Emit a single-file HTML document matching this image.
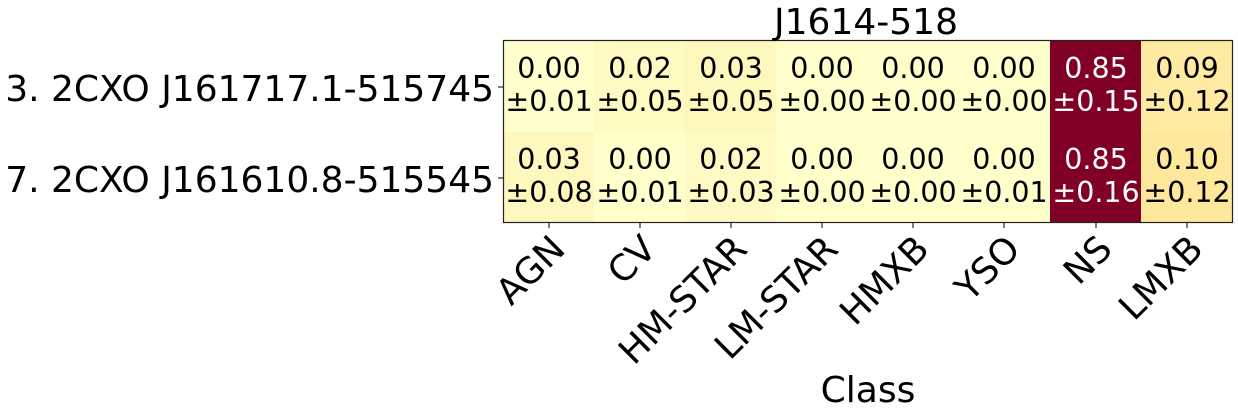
<!DOCTYPE html>
<html><head><style>
body{margin:0;width:1238px;height:414px;background:#fff;overflow:hidden}
</style></head><body>
<svg width="1238" height="414" xmlns="http://www.w3.org/2000/svg" font-family="DejaVu Sans, Liberation Sans, sans-serif">
<g>
<rect x="503" y="41" width="92" height="91" fill="#ffffcb"/>
<rect x="594" y="41" width="92" height="91" fill="#fffac2"/>
<rect x="685" y="41" width="92" height="91" fill="#fff8bd"/>
<rect x="776" y="41" width="92" height="91" fill="#ffffcc"/>
<rect x="867" y="41" width="92" height="91" fill="#ffffcc"/>
<rect x="958" y="41" width="92" height="91" fill="#ffffcc"/>
<rect x="1050" y="41" width="92" height="91" fill="#800026"/>
<rect x="1141" y="41" width="91" height="91" fill="#feeaa0"/>
<rect x="503" y="132" width="92" height="91" fill="#fff8be"/>
<rect x="594" y="132" width="92" height="91" fill="#ffffcb"/>
<rect x="685" y="132" width="92" height="91" fill="#fffac3"/>
<rect x="776" y="132" width="92" height="91" fill="#ffffcc"/>
<rect x="867" y="132" width="92" height="91" fill="#ffffcc"/>
<rect x="958" y="132" width="92" height="91" fill="#ffffcb"/>
<rect x="1050" y="132" width="92" height="91" fill="#800026"/>
<rect x="1141" y="132" width="91" height="91" fill="#fee89c"/>
<rect x="503.5" y="40.5" width="729" height="182" fill="none" stroke="#222" stroke-width="1.2"/>
</g>
<g font-size="28.5" text-anchor="middle" fill="#000">
<text x="549" y="78">0.00</text><text x="549" y="111">±0.01</text>
<text x="640" y="78">0.02</text><text x="640" y="111">±0.05</text>
<text x="731" y="78">0.03</text><text x="731" y="111">±0.05</text>
<text x="822" y="78">0.00</text><text x="822" y="111">±0.00</text>
<text x="913" y="78">0.00</text><text x="913" y="111">±0.00</text>
<text x="1004" y="78">0.00</text><text x="1004" y="111">±0.00</text>
<text x="1096" y="78" fill="#fff">0.85</text><text x="1096" y="111" fill="#fff">±0.15</text>
<text x="1187" y="78">0.09</text><text x="1187" y="111">±0.12</text>
<text x="549" y="169">0.03</text><text x="549" y="202">±0.08</text>
<text x="640" y="169">0.00</text><text x="640" y="202">±0.01</text>
<text x="731" y="169">0.02</text><text x="731" y="202">±0.03</text>
<text x="822" y="169">0.00</text><text x="822" y="202">±0.00</text>
<text x="913" y="169">0.00</text><text x="913" y="202">±0.00</text>
<text x="1004" y="169">0.00</text><text x="1004" y="202">±0.01</text>
<text x="1096" y="169" fill="#fff">0.85</text><text x="1096" y="202" fill="#fff">±0.16</text>
<text x="1187" y="169">0.10</text><text x="1187" y="202">±0.12</text>
</g>
<g stroke="#000" stroke-width="1">
<line x1="498" y1="87" x2="503" y2="87"/><line x1="498" y1="178" x2="503" y2="178"/>
<line x1="549" y1="223" x2="549" y2="228"/><line x1="640" y1="223" x2="640" y2="228"/>
<line x1="731" y1="223" x2="731" y2="228"/><line x1="822" y1="223" x2="822" y2="228"/>
<line x1="913" y1="223" x2="913" y2="228"/><line x1="1004" y1="223" x2="1004" y2="228"/>
<line x1="1096" y1="223" x2="1096" y2="228"/><line x1="1187" y1="223" x2="1187" y2="228"/>
</g>
<text x="866" y="34" font-size="36" text-anchor="middle">J1614-518</text>
<g font-size="36" text-anchor="end">
<text x="494" y="101">3. 2CXO J161717.1-515745</text>
<text x="494" y="192">7. 2CXO J161610.8-515545</text>
</g>
<g font-size="36" text-anchor="end">
<text transform="translate(567,251) rotate(-45)">AGN</text>
<text transform="translate(658,251) rotate(-45)">CV</text>
<text transform="translate(749,251) rotate(-45)">HM-STAR</text>
<text transform="translate(840,251) rotate(-45)">LM-STAR</text>
<text transform="translate(931,251) rotate(-45)">HMXB</text>
<text transform="translate(1022,251) rotate(-45)">YSO</text>
<text transform="translate(1114,251) rotate(-45)">NS</text>
<text transform="translate(1205,251) rotate(-45)">LMXB</text>
</g>
<text x="868" y="402" font-size="36" text-anchor="middle">Class</text>
</svg>
</body></html>
